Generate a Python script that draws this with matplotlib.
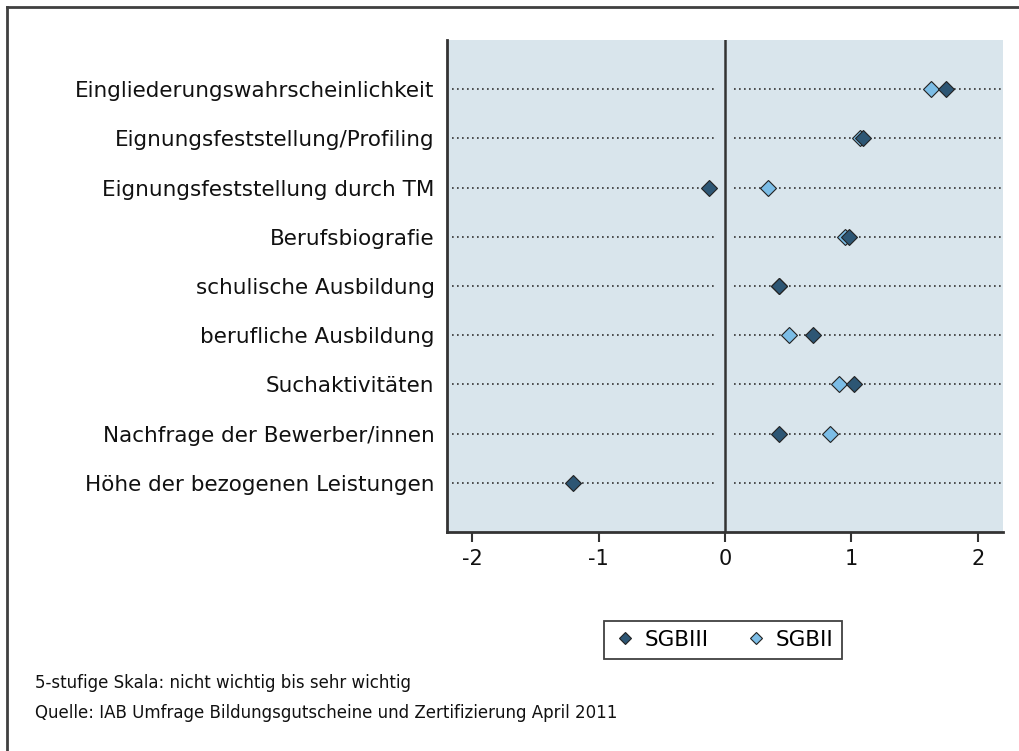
import numpy as np
import matplotlib
matplotlib.use("Agg")
import matplotlib.pyplot as plt
from matplotlib.lines import Line2D

categories = ["Eingliederungswahrscheinlichkeit", "Eignungsfeststellung/Profiling",
              "Eignungsfeststellung durch TM", "Berufsbiografie", "schulische Ausbildung",
              "berufliche Ausbildung", "Suchaktivitäten", "Nachfrage der Bewerber/innen",
              "Höhe der bezogenen Leistungen"]
sgb3 = [1.75, 1.09, -0.13, 0.98, 0.43, 0.70, 1.02, 0.43, -1.20]
sgb2 = [1.63, 1.07, 0.34, 0.95, 0.43, 0.51, 0.90, 0.83, np.nan]
xticks = [-2, -1, 0, 1, 2]

DARK = "#2d5674"
LIGHT = "#7cbde6"
BG = "#d9e5ec"
INK = "#333333"

plt.rcParams["font.family"] = ["DejaVu Sans"]

fig = plt.figure(figsize=(10.19, 7.51), dpi=100)
ax = fig.add_axes([447 / 1019, 1 - 532 / 751, 556 / 1019, 492 / 751])
ax.set_facecolor(BG)

rows = np.arange(len(categories))
xmin, xmax = -2.2, 2.2
gap = 0.07
ax.hlines(rows, xmin + 0.04, -gap, colors=INK, linestyles=(0, (1, 2)), lw=1.2)
ax.hlines(rows, gap, xmax, colors=INK, linestyles=(0, (1, 2)), lw=1.2)
ax.axvline(0, color=INK, lw=1.8)

ax.plot(sgb2, rows, "D", ms=8, mfc=LIGHT, mec="#222222", mew=0.8, ls="none", zorder=3)
ax.plot(sgb3, rows, "D", ms=8, mfc=DARK, mec="#222222", mew=0.8, ls="none", zorder=4)

ax.set_xlim(xmin, xmax)
ax.set_ylim(len(categories), -1)
ax.set_yticks(rows)
ax.set_yticklabels(categories, fontsize=15.5, color="#111111")
ax.tick_params(axis="y", length=0, pad=9)
ax.set_xticks(xticks)
ax.set_xticklabels([str(t) for t in xticks], fontsize=15, color="#111111")
ax.tick_params(axis="x", length=7, width=1.5, color=INK, pad=5)

for s in ["top", "right"]:
    ax.spines[s].set_visible(False)
for s in ["left", "bottom"]:
    ax.spines[s].set_color(INK)
    ax.spines[s].set_linewidth(2)

handles = [Line2D([], [], marker="D", ls="none", ms=6.5, mfc=DARK, mec="#222222", mew=0.8),
           Line2D([], [], marker="D", ls="none", ms=6.5, mfc=LIGHT, mec="#222222", mew=0.8)]
leg = fig.legend(handles, ["SGBIII", "SGBII"], loc="center", bbox_to_anchor=(723 / 1019, 1 - 640 / 751),
                 ncol=2, fontsize=15.5, frameon=True, fancybox=False, handletextpad=0.3,
                 columnspacing=1.6, borderpad=0.4, handlelength=1.2)
leg.get_frame().set_edgecolor("#111111")
leg.get_frame().set_linewidth(1.3)

fig.text(35 / 1019, 1 - 683 / 751, "5-stufige Skala: nicht wichtig bis sehr wichtig",
         fontsize=12, va="center", ha="left", color="#111111")
fig.text(35 / 1019, 1 - 713 / 751, "Quelle: IAB Umfrage Bildungsgutscheine und Zertifizierung April 2011",
         fontsize=12, va="center", ha="left", color="#111111")

# outer frame (left and top only)
fig.add_artist(Line2D([7 / 1019, 7 / 1019], [0, 1 - 7 / 751], transform=fig.transFigure, color="#404040", lw=2))
fig.add_artist(Line2D([7 / 1019, 1], [1 - 7 / 751, 1 - 7 / 751], transform=fig.transFigure, color="#404040", lw=2))

fig.savefig("out.png", dpi=100)
